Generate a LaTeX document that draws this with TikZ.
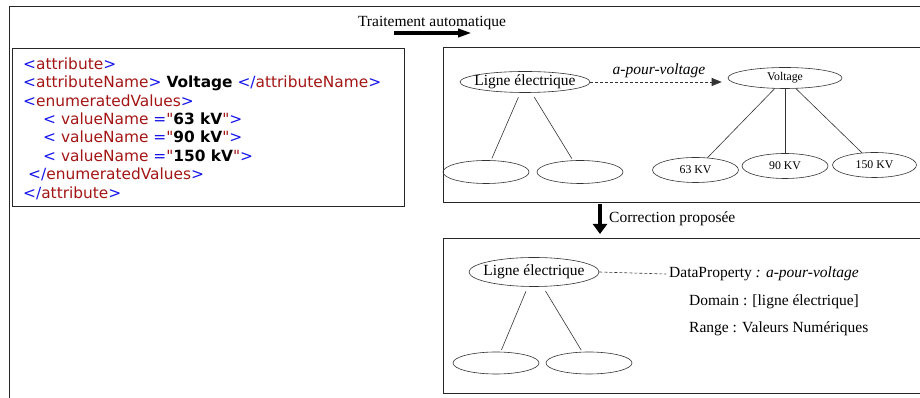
\documentclass[tikz,border=0pt]{standalone}
\usepackage{fontspec}
\setmainfont{Liberation Serif}
\newfontfamily\xmlfont{DejaVu Sans}
\usetikzlibrary{shapes.geometric,arrows.meta}
\definecolor{xmlblue}{RGB}{20,20,235}
\definecolor{xmlred}{RGB}{163,21,21}
\newcommand\xb[1]{\textcolor{xmlblue}{#1}}
\newcommand\xr[1]{\textcolor{xmlred}{#1}}
\tikzset{
    frame/.style={draw=black!85,line width=0.9pt},
    oval/.style={ellipse,draw=black!80,line width=0.6pt,inner xsep=-30pt,inner ysep=-8pt,
        font=\fontsize{15.5}{18}\selectfont},
    smalloval/.style={oval,font=\fontsize{11.8}{14}\selectfont},
    txt/.style={inner sep=0pt,font=\fontsize{15.5}{18}\selectfont},
    bigarrow/.style={line width=4.5pt},
    dashline/.style={draw=black!80,line width=0.6pt,dash pattern=on 3pt off 2pt},
    edge from parent/.style={draw,black!80,line width=0.6pt,shorten <=5pt,shorten >=2pt}
}
\begin{document}
\begin{tikzpicture}[x=1pt,y=1pt]
    \useasboundingbox (0,0) rectangle (920,398);
    % frames
    \draw[frame] (9,0) -- (9,392) -- (920,392);
    \draw[frame] (12,192) rectangle (404,350);
    \draw[frame] (920,351) -- (443,351) -- (443,196) -- (920,196);
    \draw[frame] (920,160) -- (443,160) -- (443,5) -- (920,5);

    % xml source
    \node[anchor=north west,align=left,inner sep=0pt,
        font={\xmlfont\fontsize{15.4}{18.4}\selectfont}] (xml) at (23,340.5) {%
        \xb{<}\xr{attribute}\xb{>}\\
        \xb{<}\xr{attributeName}\xb{>} \textbf{Voltage} \xb{</}\xr{attributeName}\xb{>}\\
        \xb{<}\xr{enumeratedValues}\xb{>}\\
        \hspace*{20pt}\xb{<} \xr{valueName} \xb{=}\xr{"}\textbf{63 kV}\xr{"}\xb{>}\\
        \hspace*{20pt}\xb{<} \xr{valueName} \xb{=}\xr{"}\textbf{90 kV}\xr{"}\xb{>}\\
        \hspace*{20pt}\xb{<} \xr{valueName} \xb{=}\xr{"}\textbf{150 kV}\xr{"}\xb{>}\\
        \hspace*{5pt}\xb{</}\xr{enumeratedValues}\xb{>}\\
        \xb{</}\xr{attribute}\xb{>}};

    % step arrows
    \node[txt] (trait) at (432,375) {Traitement automatique};
    \coordinate (ta) at (394,365);
    \coordinate (tb) at (472,365);
    \draw[bigarrow,-{Triangle[length=14pt,width=8pt]}] (ta) -- (tb);
    \coordinate (ca) at (600,194);
    \coordinate (cb) at (600,164);
    \draw[bigarrow,-{Triangle[length=10pt,width=14pt]}] (ca) -- (cb);
    \node[txt,anchor=west] (corr) at (609,179) {Correction propos\'ee};

    % automatic result
    \begin{scope}[level distance=90pt,level 1/.style={sibling distance=94pt}]
        \node[oval,minimum width=130pt,minimum height=21pt] (le) at (525,316) {Ligne \'electrique}
        child {node[oval,minimum width=86pt,minimum height=23pt,xshift=8pt] (le1) {}}
        child {node[oval,minimum width=86pt,minimum height=23pt,xshift=8pt] (le2) {}};
    \end{scope}
    \begin{scope}[level distance=88pt,level 1/.style={sibling distance=89.5pt},
        edge from parent/.append style={shorten <=0pt,shorten >=0pt}]
        \node[smalloval,minimum width=114pt,minimum height=21pt] (volt) at (785,320) {Voltage}
        child {node[smalloval,minimum width=86pt,minimum height=25pt,yshift=-4pt] (v63) {63 KV}}
        child {node[smalloval,minimum width=86pt,minimum height=25pt] (v90) {90 KV}}
        child {node[smalloval,minimum width=84pt,minimum height=25pt,yshift=1pt] (v150) {150 KV}};
    \end{scope}
    \draw[dashline,-{Triangle[length=10pt,width=8pt]},shorten >=6pt] (le.east) -- (le.east -| volt.west)
        node[midway,above,inner sep=3.5pt,font=\fontsize{15.5}{18}\selectfont] (hasv) {\textit{a-pour-voltage}};

    % proposed correction
    \begin{scope}[level distance=91pt,level 1/.style={sibling distance=93pt}]
        \node[oval,minimum width=130pt,minimum height=29pt] (le3) at (534,126) {Ligne \'electrique}
        child {node[oval,minimum width=86pt,minimum height=22pt,xshift=8.5pt] (le31) {}}
        child {node[oval,minimum width=86pt,minimum height=22pt,xshift=8.5pt] (le32) {}};
    \end{scope}
    \node[txt,anchor=west,inner sep=3pt] (dp) at (666,124) {DataProperty \textit{: a-pour-voltage}};
    \draw[dashline] (le3.east) -- (dp.west);
    \node[txt,anchor=west] (dom) at (689,96) {Domain : [ligne \'electrique]};
    \node[txt,anchor=west] (rng) at (689,69) {Range : Valeurs Num\'eriques};
\end{tikzpicture}
\end{document}
